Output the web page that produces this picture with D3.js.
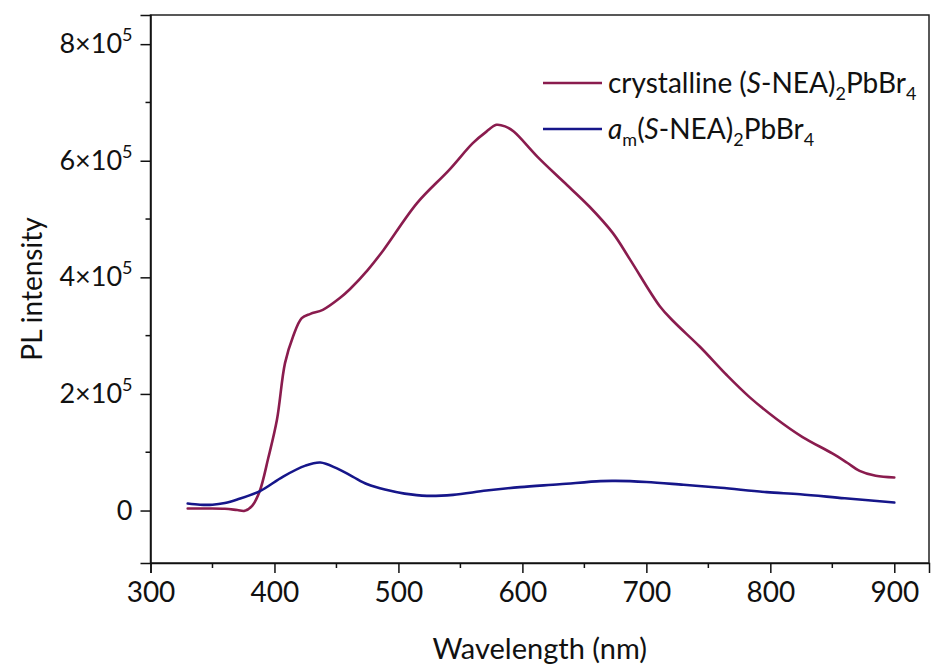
<!DOCTYPE html>
<html>
<head>
<meta charset="utf-8">
<script src="https://cdn.jsdelivr.net/npm/d3@7"></script>
<style>
  html, body { margin: 0; padding: 0; background: #fff; }
  svg { display: block; }
  text { font-family: Lato, "Open Sans", sans-serif; fill: #111; }
</style>
</head>
<body>
<svg id="chart" width="931" height="669"></svg>
<script>
// PL spectra of crystalline vs. amorphous (S-NEA)2PbBr4
const wlCrystal = [330, 345, 360, 370, 376, 382, 388, 395, 402, 408.5, 415, 422, 429, 439, 453, 461,
  475, 488, 515, 541, 560, 571, 579, 586, 593, 612, 633, 654, 673, 687, 711, 722, 743, 765, 783,
  805, 826, 850, 862, 872, 885, 900];
const plCrystal = [3400, 3400, 3000, 800, -500, 8000, 32600, 90000, 155600, 252800, 298500, 330000,
  337400, 344300, 365000, 380000, 412000, 447000, 527300, 584400, 630200, 650000, 661600, 659000,
  650100, 607200, 564300, 521500, 475800, 430000, 350000, 324200, 281300, 232000, 195000, 157000,
  126000, 98000, 82000, 68000, 59500, 56600];

const wlAmorph = [330, 340, 350, 360, 370, 388, 407, 425, 437, 450, 463, 475, 490, 505, 523, 544, 571,
  598, 630, 663, 675, 700, 730, 760, 797, 824, 860, 900];
const plAmorph = [12000, 10000, 10000, 13000, 19000, 33000, 58300, 77000, 82300, 72700, 58300, 45000,
  35500, 29000, 25200, 26900, 34300, 40100, 45000, 50500, 50900, 49000, 44100, 39000, 31500, 28000,
  21000, 13700];

const xTicks = [300, 400, 500, 600, 700, 800, 900];
const yTicks = [0, 200000, 400000, 600000, 800000];
const seriesColors = ["#8a1c4e", "#16168a"];

const svg = d3.select("#chart");
const m = { left: 150.5, right: 929, top: 15, bottom: 563 };

const x = d3.scaleLinear().domain([300, 928]).range([m.left, m.right]);
const y = d3.scaleLinear().domain([-90000, 850000]).range([m.bottom, m.top]);

// frame
svg.append("rect")
  .attr("x", m.left).attr("y", m.top)
  .attr("width", m.right - m.left).attr("height", m.bottom - m.top)
  .attr("fill", "none").attr("stroke", "#222").attr("stroke-width", 1.5);

// minor ticks
const xMinor = d3.range(350, 928, 100);
const yMinor = d3.range(-100000, 850000, 200000).filter(v => v > -90000);

const gx = svg.append("g").attr("transform", `translate(0,${m.bottom})`);
gx.call(d3.axisBottom(x).tickValues(xTicks).tickSize(10).tickPadding(9).tickFormat(d3.format("d")));
gx.selectAll("line").attr("stroke", "#111").attr("stroke-width", 1.5);
gx.select(".domain").attr("stroke", "#111").attr("stroke-width", 1.5);
gx.selectAll("text").attr("font-size", 28).attr("font-family", "Lato").attr("fill", "#111");
gx.selectAll(".minor").data(xMinor).enter().append("line")
  .attr("x1", d => x(d)).attr("x2", d => x(d)).attr("y1", 0).attr("y2", 5)
  .attr("stroke", "#111").attr("stroke-width", 1.5);

const gy = svg.append("g").attr("transform", `translate(${m.left},0)`);
gy.call(d3.axisLeft(y).tickValues(yTicks).tickSize(10).tickPadding(8).tickFormat(() => ""));
gy.selectAll("line").attr("stroke", "#111").attr("stroke-width", 1.5);
gy.select(".domain").attr("stroke", "#111").attr("stroke-width", 1.5);
gy.selectAll(".tick text").each(function(d) {
  const t = d3.select(this).attr("font-size", 27).attr("font-family", "Lato").attr("fill", "#111");
  if (d === 0) { t.text("0"); return; }
  const mant = d / 100000;
  t.append("tspan").text(mant + "×10");
  t.append("tspan").attr("dy", "-12").attr("font-size", 18).text("5");
});
gy.selectAll(".minor").data(yMinor).enter().append("line")
  .attr("x1", -5).attr("x2", 0).attr("y1", d => y(d)).attr("y2", d => y(d))
  .attr("stroke", "#111").attr("stroke-width", 1.5);

// axis titles
svg.append("text").attr("x", (m.left + m.right) / 2).attr("y", 659)
  .attr("text-anchor", "middle").attr("font-size", 29).text("Wavelength (nm)");
svg.append("text").attr("transform", `translate(42,${(m.top + m.bottom) / 2}) rotate(-90)`)
  .attr("text-anchor", "middle").attr("font-size", 28).text("PL intensity");

// curves
const line = d3.line().x(d => x(d[0])).y(d => y(d[1])).curve(d3.curveCatmullRom.alpha(0.5));
const series = [d3.zip(wlCrystal, plCrystal), d3.zip(wlAmorph, plAmorph)];
const plot = svg.append("g");
series.forEach((s, i) => {
  plot.append("path").datum(s).attr("d", line)
    .attr("fill", "none").attr("stroke", seriesColors[i]).attr("stroke-width", 2.6)
    .attr("stroke-linejoin", "round").attr("stroke-linecap", "round");
});

// legend
const legend = svg.append("g");
const legendY = [83, 129];
legendY.forEach((ly, i) => {
  legend.append("line").attr("x1", 543).attr("x2", 602).attr("y1", ly).attr("y2", ly)
    .attr("stroke", seriesColors[i]).attr("stroke-width", 2.6);
});
function addSub(t, s) {
  t.append("tspan").attr("font-size", 18).attr("dy", 7).text(s);
}
const lt1 = legend.append("text").attr("x", 608).attr("y", legendY[0] + 10).attr("font-size", 28);
lt1.append("tspan").text("crystalline (");
lt1.append("tspan").attr("font-style", "italic").text("S");
lt1.append("tspan").text("-NEA)");
addSub(lt1, "2");
lt1.append("tspan").attr("dy", -7).text("PbBr");
addSub(lt1, "4");

const lt2 = legend.append("text").attr("x", 608).attr("y", legendY[1] + 10).attr("font-size", 28);
lt2.append("tspan").attr("font-style", "italic").text("a");
addSub(lt2, "m");
lt2.append("tspan").attr("dy", -7).text("(");
lt2.append("tspan").attr("font-style", "italic").text("S");
lt2.append("tspan").text("-NEA)");
addSub(lt2, "2");
lt2.append("tspan").attr("dy", -7).text("PbBr");
addSub(lt2, "4");
</script>
</body>
</html>
